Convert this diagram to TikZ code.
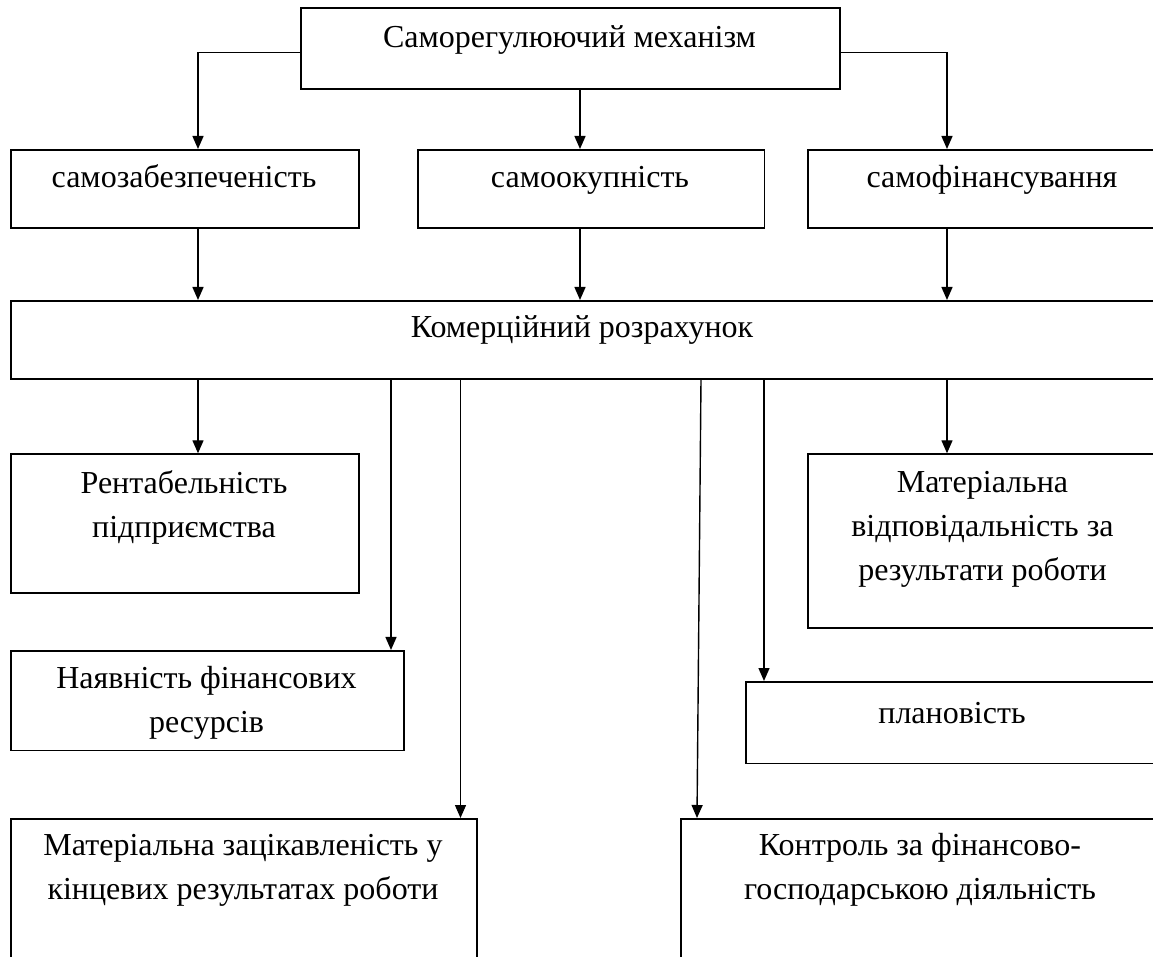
\documentclass[tikz,border=0pt]{standalone}
\usepackage{fontspec}
\setmainfont{Liberation Serif}
\usetikzlibrary{arrows.meta}
\begin{document}
\begin{tikzpicture}[x=0.5pt,y=-0.5pt,
  box/.style={draw, line width=0.9pt, inner sep=0pt, anchor=north west},
  txt/.style={font=\fontsize{16}{22}\selectfont, inner sep=0pt, anchor=base, align=center},
  arr/.style={line width=0.7pt, -{Triangle[width=5.5pt,length=6.5pt]}}]
\path[use as bounding box] (0,0) rectangle (1153,957);
\clip (0,0) rectangle (1153,957);
% column / row helpers
\coordinate (c1) at (198,0);
\coordinate (c2) at (580,0);
\coordinate (c3) at (947,0);
\coordinate (c4) at (391,0);
\coordinate (c5) at (460.5,0);
\coordinate (c6) at (701,0);
\coordinate (c6b) at (697,0);
\coordinate (c7) at (764,0);
\coordinate (yT) at (0,52.7);
% boxes
\node[box, minimum width=269.5pt, minimum height=40.25pt] (T) at (300,7.5) {};
\node[box, minimum width=174pt, minimum height=39.25pt] (A) at (10,149) {};
\node[box, minimum width=173.25pt, minimum height=39.25pt] (B) at (417,149) {};
\node[box, minimum width=185pt, minimum height=39.25pt] (C) at (807,149) {};
\node[box, minimum width=573pt, minimum height=39.15pt] (K) at (10,300) {};
\node[box, minimum width=174pt, minimum height=69.5pt] (R) at (10,453.3) {};
\node[box, minimum width=176.5pt, minimum height=86.75pt] (M) at (807,453.3) {};
\node[box, minimum width=196.65pt, minimum height=49.75pt] (N) at (10,650) {};
\node[box, minimum width=207.5pt, minimum height=40.75pt] (P) at (745.4,681) {};
\node[box, minimum width=233pt, minimum height=91pt] (BL) at (10,818) {};
\node[box, minimum width=243pt, minimum height=91pt] (BR) at (680,818) {};
% texts (base anchor = baseline of the last line)
\node[txt] (Tt) at (569.5,48) {Саморегулюючий механізм};
\node[txt] (At) at (184,188) {самозабезпеченість};
\node[txt] (Bt) at (590,188) {самоокупність};
\node[txt] (Ct) at (992,188) {самофінансування};
\node[txt] (Kt) at (582,338) {Комерційний розрахунок};
\node[txt] (Rt) at (184,538) {Рентабельність\\підприємства};
\node[txt] (Mt) at (982.5,581) {Матеріальна\\відповідальність за\\результати роботи};
\node[txt] (Nt) at (206.5,733) {Наявність фінансових\\ресурсів};
\node[txt] (Pt) at (952,723) {плановість};
\node[txt] (BLt) at (243,899) {Матеріальна зацікавленість у\\кінцевих результатах роботи};
\node[txt] (BRt) at (920,899) {Контроль за фінансово-\\господарською діяльність};
% connectors
\draw[arr] (T.west |- yT) -| (A.north -| c1);
\draw[arr] (T.south -| c2) -- (B.north -| c2);
\draw[arr] (T.east |- yT) -| (C.north -| c3);
\draw[arr] (A.south -| c1) -- (K.north -| c1);
\draw[arr] (B.south -| c2) -- (K.north -| c2);
\draw[arr] (C.south -| c3) -- (K.north -| c3);
\draw[arr] (K.south -| c1) -- (R.north -| c1);
\draw[arr] (K.south -| c4) -- (N.north -| c4);
\draw[arr] (K.south -| c5) -- (BL.north -| c5);
\draw[arr] (K.south -| c6) -- (BR.north -| c6b);
\draw[arr] (K.south -| c7) -- (P.north -| c7);
\draw[arr] (K.south -| c3) -- (M.north -| c3);
\end{tikzpicture}
\end{document}
